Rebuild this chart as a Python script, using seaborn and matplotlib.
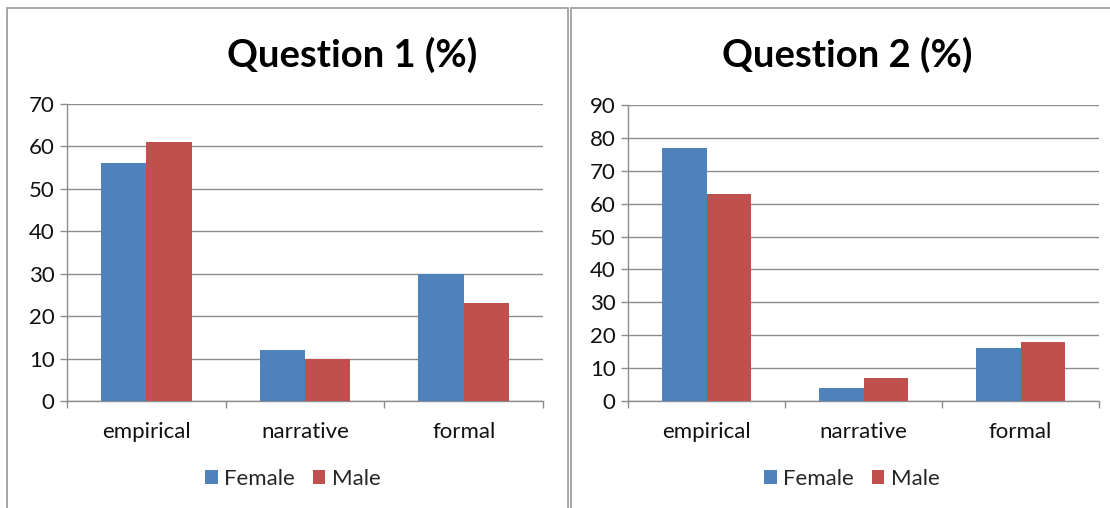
import matplotlib
matplotlib.use("Agg")
import matplotlib.pyplot as plt
import seaborn as sns
import pandas as pd
from matplotlib.patches import Rectangle, Patch

categories = ["empirical", "narrative", "formal"]
groups = ["Female", "Male"]
q1_female = [56, 12, 30]
q1_male = [61, 10, 23]
q2_female = [77, 4, 16]
q2_male = [63, 7, 18]
titles = ["Question 1 (%)", "Question 2 (%)"]
y_ticks_q1 = [0, 10, 20, 30, 40, 50, 60, 70]
y_ticks_q2 = [0, 10, 20, 30, 40, 50, 60, 70, 80, 90]

sns.set_theme(style="white")
plt.rcParams["font.family"] = ["Lato", "DejaVu Sans"]

BLUE = "#4F81BD"
RED = "#C0504D"
GRID = "#8C8C8C"
AXIS = "#8C8C8C"
FS = 16

W, H = 1110, 508
fig = plt.figure(figsize=(W / 100, H / 100), dpi=100)
fig.patch.set_facecolor("white")


def frac_box(x0, y0, x1, y1):
    return [x0 / W, 1 - y1 / H, (x1 - x0) / W, (y1 - y0) / H]


# panel borders
for (x0, y0, x1, y1) in [(7, 8, 568, 520), (571, 8, 1130, 520)]:
    fig.patches.append(Rectangle((x0 / W, 1 - y1 / H), (x1 - x0) / W, (y1 - y0) / H,
                                 transform=fig.transFigure, fill=False,
                                 edgecolor="#A0A0A0", linewidth=1.3, zorder=0))


def make_df(fem, mal):
    rows = []
    for c, v in zip(categories, fem):
        rows.append({"category": c, "group": "Female", "value": v})
    for c, v in zip(categories, mal):
        rows.append({"category": c, "group": "Male", "value": v})
    return pd.DataFrame(rows)


panels = [
    dict(box=frac_box(67, 104, 543, 401), fem=q1_female, mal=q1_male, ticks=y_ticks_q1,
         title=titles[0], tx=352, leg=293),
    dict(box=frac_box(628, 105, 1099, 401), fem=q2_female, mal=q2_male, ticks=y_ticks_q2,
         title=titles[1], tx=847, leg=852),
]

for p in panels:
    ax = fig.add_axes(p["box"])
    df = make_df(p["fem"], p["mal"])
    sns.barplot(data=df, x="category", y="value", hue="group", order=categories,
                hue_order=groups, palette=[BLUE, RED], width=0.57, linewidth=0,
                saturation=1, ax=ax, legend=False, zorder=3)
    ax.set_xlim(-0.5, 2.5)
    ax.set_ylim(0, p["ticks"][-1])
    ax.set_yticks(p["ticks"])
    ax.set_yticklabels([str(t) for t in p["ticks"]])
    ax.yaxis.grid(True, color=GRID, linewidth=1.0, zorder=0)
    ax.set_axisbelow(True)
    ax.set_xlabel("")
    ax.set_ylabel("")
    for s in ["top", "right"]:
        ax.spines[s].set_visible(False)
    for s in ["left", "bottom"]:
        ax.spines[s].set_color(AXIS)
        ax.spines[s].set_linewidth(1.0)
    ax.set_xticks([0, 1, 2])
    ax.set_xticklabels(categories)
    ax.set_xticks([-0.5, 0.5, 1.5, 2.5], minor=True)
    ax.tick_params(axis="x", which="major", length=0, labelsize=FS, pad=15,
                   labelcolor="#111111")
    ax.tick_params(axis="x", which="minor", length=5, color=AXIS, width=1.0,
                   direction="out", bottom=True)
    ax.tick_params(axis="y", length=5, color=AXIS, width=1.0, labelsize=FS,
                   pad=4, labelcolor="#111111", left=True, direction="out")
    fig.text(p["tx"] / W, 1 - 55 / H, p["title"], ha="center", va="center",
             fontsize=27.5, fontweight="bold", color="black")
    handles = [Patch(facecolor=BLUE, edgecolor="none"), Patch(facecolor=RED, edgecolor="none")]
    fig.legend(handles, groups, loc="center", bbox_to_anchor=(p["leg"] / W, 1 - 479 / H),
               ncol=2, frameon=False, fontsize=FS, handlelength=0.55, handleheight=0.55,
               handletextpad=0.3, columnspacing=0.8, borderpad=0)

fig.savefig("out.png", dpi=100, facecolor="white")
